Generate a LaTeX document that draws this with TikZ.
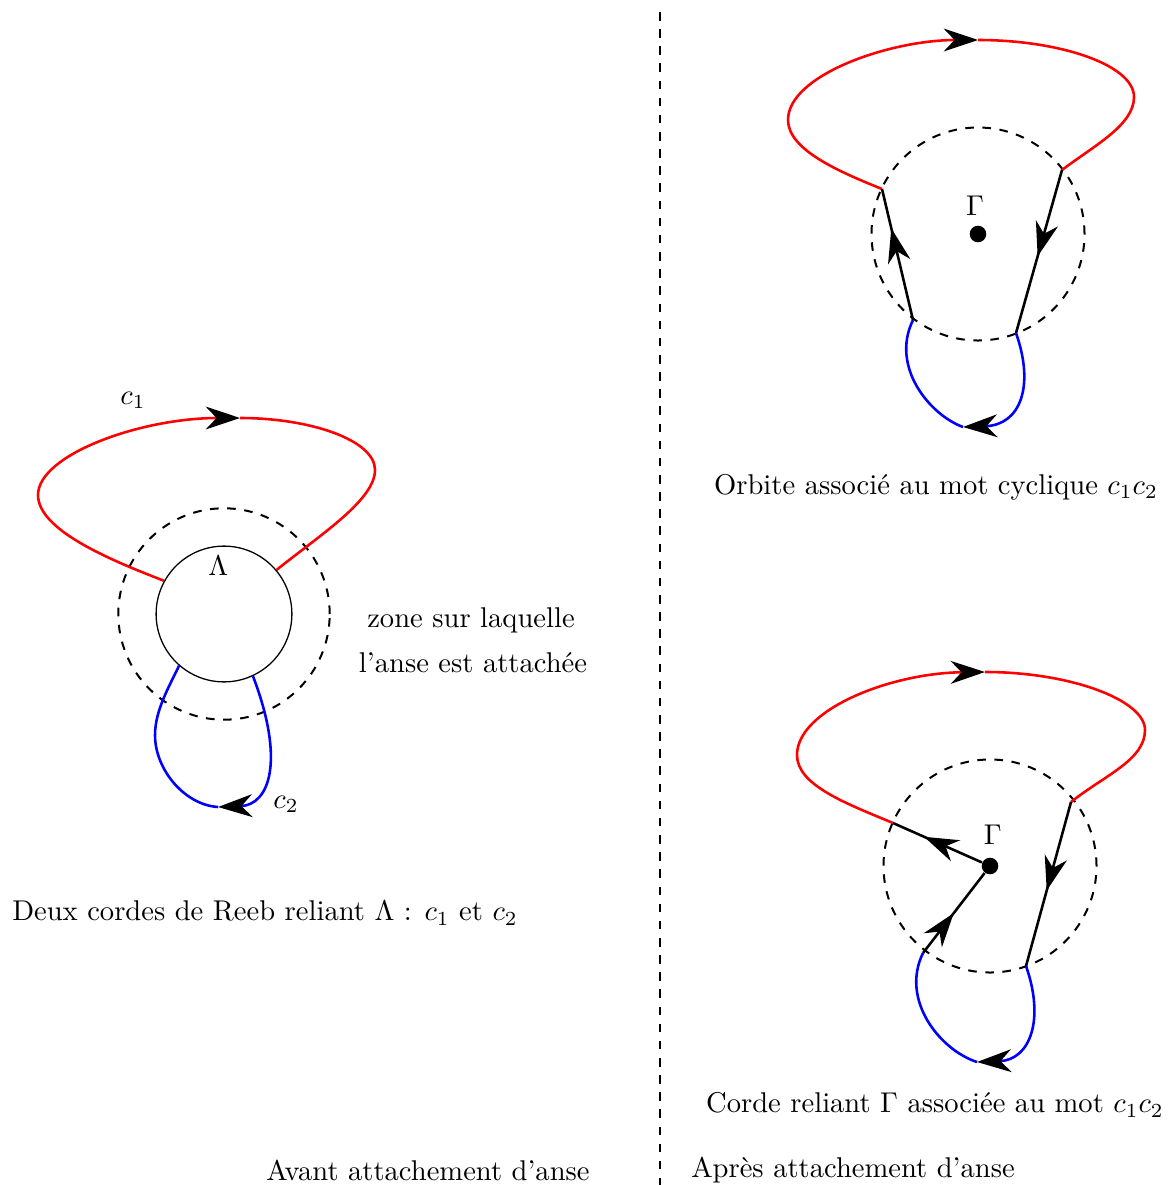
\documentclass[tikz,border=0pt]{standalone}
\usepackage{amsmath,amssymb}
\usepackage{fontspec}
\usepackage{tikz}
\usetikzlibrary{arrows.meta,positioning,calc,decorations.markings}
\tikzset{
  >={Stealth[length=12pt,width=8pt,inset=3.8pt,color=black]},
  redcord/.style={red,line width=.9pt},
  bluecord/.style={blue,line width=.9pt},
  blackcord/.style={black,line width=.9pt},
  zone/.style={dashed,line width=.7pt},
  midarrow/.style={postaction={decorate},decoration={markings,mark=at position #1 with {\arrow{>}}}},
  gammavertex/.style={circle,fill,inner sep=0pt,minimum size=5.8pt},
  lambdavertex/.style={circle,draw,line width=.45pt,inner sep=0pt,minimum size=1.67cm}
}
\begin{document}
\begin{tikzpicture}[x=0.0123cm,y=-0.0123cm]
  \useasboundingbox (0,0) rectangle (1170,1185);
  \coordinate (septop) at (660,12);
  \coordinate (sepbottom) at (660,1185);
  \draw[zone] (septop) -- (sepbottom);

  \node[lambdavertex] (lam) at (224,614) {};
  \node[below=0pt of lam.north,xshift=-2pt] (lamlabel) {$\Lambda$};
  \draw[zone] (lam.center) circle[radius=1.3cm];
  \coordinate (l1) at (38,495);
  \coordinate (t1) at (240,418);
  \coordinate (r1) at (375,470);
  \coordinate (d1) at (218,807);
  \coordinate (e1) at (155,735);
  \draw[redcord,->] (lam.151) .. controls (110,560) and (38,530) .. (l1) .. controls (38,455) and (140,418) .. (t1);
  \draw[redcord] (t1) .. controls (310,418) and (375,440) .. (r1) .. controls (375,500) and (320,535) .. (lam.40);
  \draw[bluecord,->] (lam.-65) .. controls (285,760) and (270,805) .. (d1);
  \draw[bluecord] (d1) .. controls (185,805) and (155,770) .. (e1) .. controls (155,710) and (170,685) .. (lam.-131);
  \node (c1label) at (133,400) {$c_1$};
  \node (c2label) at (286,804) {$c_2$};
  \node (zone1) at (471,620) {zone sur laquelle};
  \node (zone2) at (473,663) {l'anse est attachée};
  \node (capleft) at (265,913) {Deux cordes de Reeb reliant $\Lambda$ : $c_1$ et $c_2$};
  \node (avant) at (428,1170) {Avant attachement d'anse};

  \node[gammavertex] (g1) at (978,234) {};
  \node[above=0pt of g1,xshift=-1pt] (g1label) {$\Gamma$};
  \draw[zone] (g1) circle[radius=1.31cm];
  \coordinate (p1) at (882,189);
  \coordinate (p2) at (1062,170);
  \coordinate (q1) at (913,320);
  \coordinate (q2) at (1016,333);
  \coordinate (l2) at (788,120);
  \coordinate (t2) at (978,40);
  \coordinate (r2) at (1134,97);
  \coordinate (b2) at (963,427);
  \draw[redcord,->] (p1) .. controls (840,172) and (788,150) .. (l2) .. controls (788,75) and (890,40) .. (t2);
  \draw[redcord] (t2) .. controls (1060,40) and (1134,65) .. (r2) .. controls (1134,125) and (1095,145) .. (p2);
  \draw[blackcord,midarrow=0.7] (q1) -- (p1);
  \draw[blackcord,midarrow=0.53] (p2) -- (q2);
  \draw[bluecord,->] (q2) .. controls (1035,387) and (1020,425) .. (b2);
  \draw[bluecord] (b2) .. controls (930,415) and (890,367) .. (q1);
  \node (captop) at (936,487) {Orbite associé au mot cyclique $c_1c_2$};

  \node[gammavertex] (g2) at (990,866) {};
  \node[above=1pt of g2,xshift=1pt] (g2label) {$\Gamma$};
  \draw[zone] (g2) circle[radius=1.31cm];
  \coordinate (p3) at (893,823);
  \coordinate (p4) at (1071,802);
  \coordinate (q3) at (923,953);
  \coordinate (q4) at (1026,966);
  \coordinate (l3) at (797,755);
  \coordinate (t3) at (985,672);
  \coordinate (r3) at (1145,730);
  \coordinate (b3) at (977,1062);
  \draw[redcord,->] (p3) .. controls (845,803) and (797,785) .. (l3) .. controls (797,710) and (890,673) .. (t3);
  \draw[redcord] (t3) .. controls (1070,672) and (1145,700) .. (r3) .. controls (1145,760) and (1105,775) .. (p4);
  \draw[blackcord,midarrow=0.54] (p4) -- (q4);
  \draw[blackcord,midarrow=0.65] (g2) -- (p3);
  \draw[blackcord,midarrow=0.5] (q3) -- (g2);
  \draw[bluecord,->] (q4) .. controls (1045,1020) and (1030,1060) .. (b3);
  \draw[bluecord] (b3) .. controls (940,1050) and (900,1000) .. (q3);
  \node (capbottom) at (935,1105) {Corde reliant $\Gamma$ associée au mot $c_1c_2$};
  \node (apres) at (853,1170) {Après attachement d'anse};
\end{tikzpicture}
\end{document}
